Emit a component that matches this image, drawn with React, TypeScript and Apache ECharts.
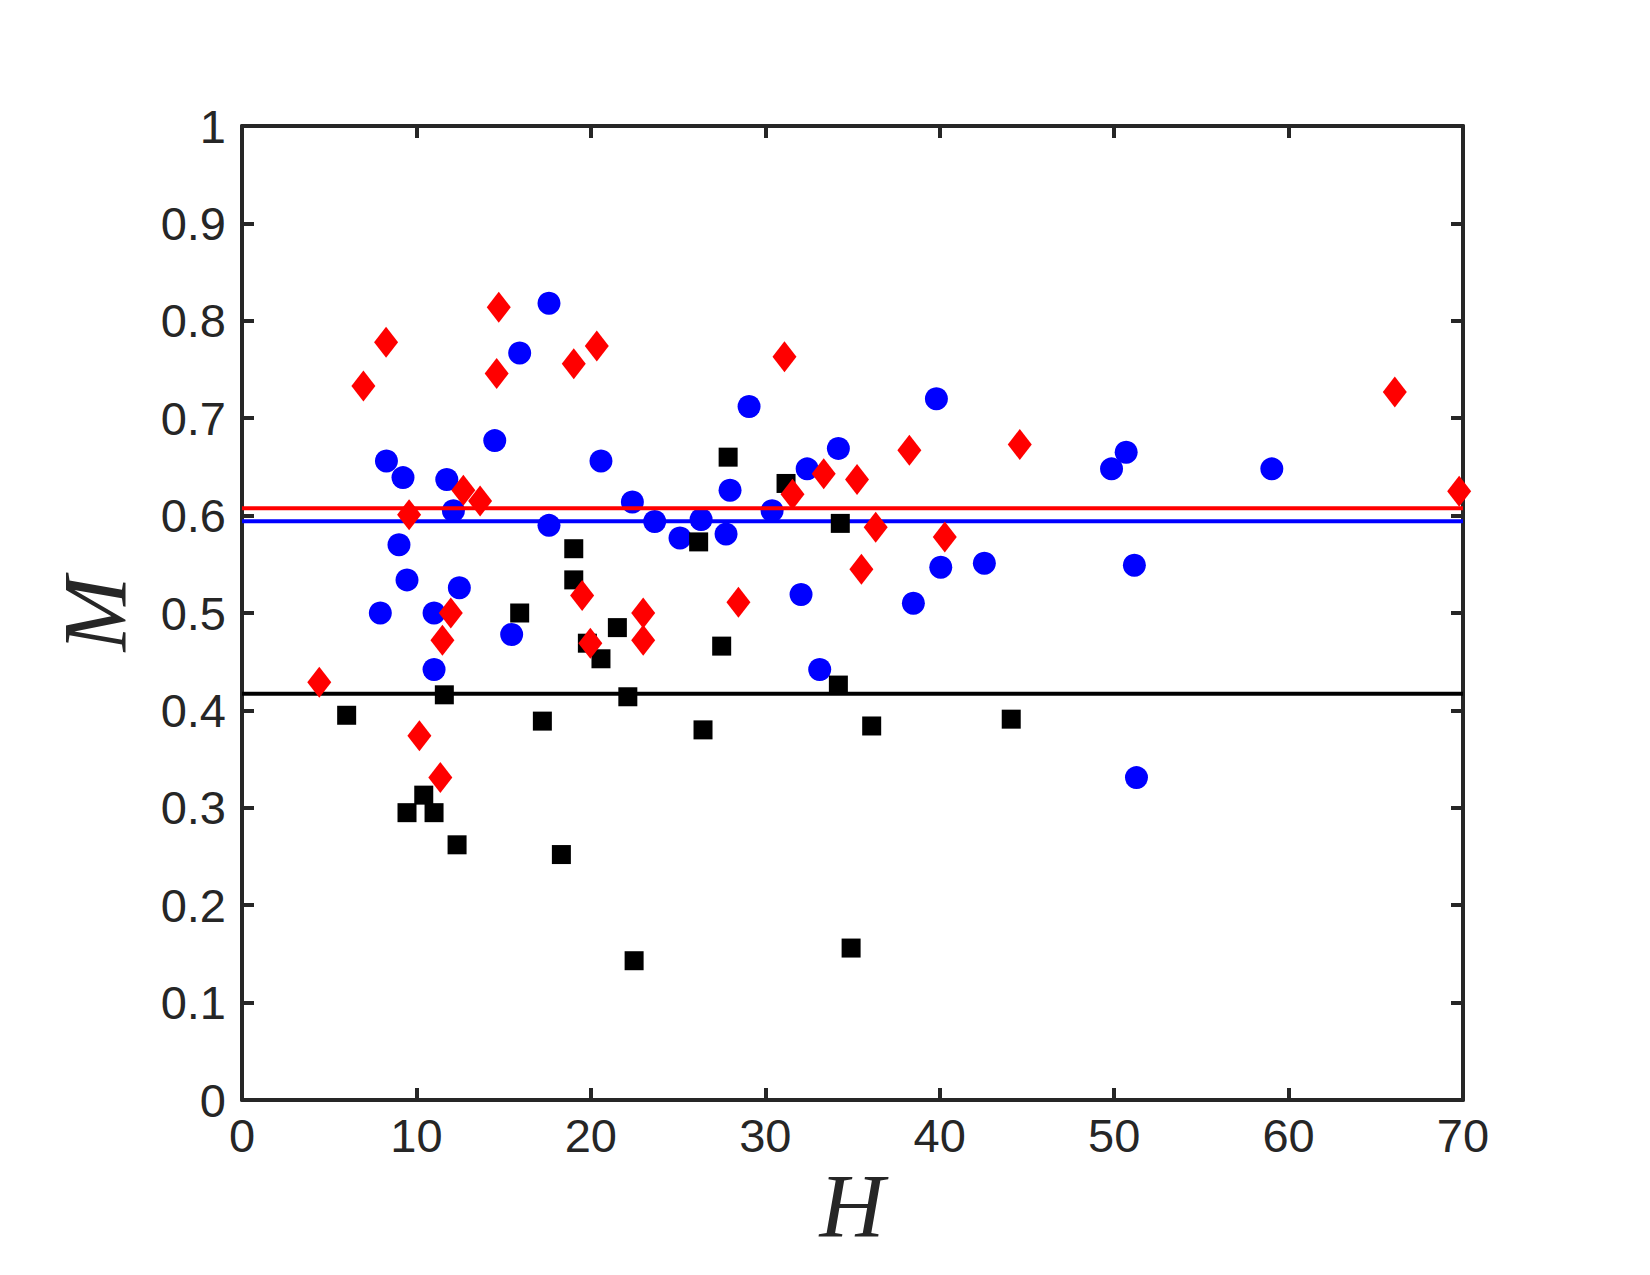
import React, { useEffect, useRef } from "react";
import * as echarts from "echarts";

// Group A (blue circles)
const circleH = [7.93, 8.28, 9.23, 9.0, 9.46, 11.01, 11.01, 11.74, 12.12, 12.46, 14.49, 15.46, 15.92, 17.6, 17.6, 20.58, 22.38, 23.66, 25.11, 26.32, 27.75, 27.98, 29.07, 30.39, 32.05, 32.4, 33.12, 34.19, 38.49, 39.81, 40.06, 42.56, 49.85, 50.69, 51.16, 51.28, 59.04];
const circleM = [0.5, 0.656, 0.639, 0.57, 0.534, 0.5, 0.442, 0.637, 0.605, 0.526, 0.677, 0.478, 0.767, 0.818, 0.59, 0.656, 0.614, 0.594, 0.577, 0.596, 0.581, 0.626, 0.712, 0.605, 0.519, 0.648, 0.442, 0.669, 0.51, 0.72, 0.547, 0.551, 0.648, 0.665, 0.549, 0.331, 0.648];

// Group B (red diamonds)
const diamondH = [4.43, 6.96, 8.26, 9.58, 10.17, 11.37, 11.49, 11.97, 12.69, 13.65, 14.6, 14.72, 19.02, 19.5, 19.97, 20.34, 23.0, 23.0, 28.46, 31.1, 31.56, 33.35, 35.26, 35.51, 36.33, 38.26, 40.29, 44.59, 66.09, 69.78];
const diamondM = [0.429, 0.733, 0.778, 0.601, 0.374, 0.331, 0.472, 0.5, 0.626, 0.615, 0.746, 0.814, 0.756, 0.518, 0.469, 0.774, 0.5, 0.472, 0.511, 0.763, 0.622, 0.643, 0.637, 0.545, 0.588, 0.667, 0.578, 0.673, 0.727, 0.625];

// Group C (black squares)
const squareH = [6.0, 9.46, 10.42, 11.01, 11.6, 12.33, 15.92, 17.22, 18.31, 19.02, 19.02, 19.8, 20.58, 21.52, 22.12, 22.48, 26.18, 26.43, 27.5, 27.87, 31.19, 34.19, 34.3, 34.92, 36.1, 44.1];
const squareM = [0.395, 0.295, 0.313, 0.295, 0.416, 0.262, 0.5, 0.389, 0.252, 0.566, 0.534, 0.469, 0.453, 0.485, 0.414, 0.143, 0.573, 0.38, 0.466, 0.66, 0.633, 0.426, 0.592, 0.156, 0.384, 0.391];

// Group mean levels
const meanDiamond = 0.6075;
const meanCircle = 0.5941;
const meanSquare = 0.4172;

const xRange = [0, 70];
const yRange = [0, 1];

const AXIS_COLOR = "#262626";
const TICK_FONT = "Liberation Sans";

function pairs(xs: number[], ys: number[]) {
  return xs.map((x, i) => [x, ys[i]]);
}

function levelLine(v: number) {
  return [
    [xRange[0], v],
    [xRange[1], v],
  ];
}

export default function App() {
  const ref = useRef<HTMLDivElement>(null);

  useEffect(() => {
    if (!ref.current) return;
    const chart = echarts.init(ref.current, null, { renderer: "svg" });

    const axisLine = { show: true, onZero: false, lineStyle: { color: AXIS_COLOR, width: 4 } };
    const tick = { show: true, inside: true, length: 12, lineStyle: { color: AXIS_COLOR, width: 4 } };
    const labelStyle = { color: AXIS_COLOR, fontFamily: TICK_FONT, fontSize: 47 };

    chart.setOption({
      animation: false,
      backgroundColor: "#ffffff",
      grid: { left: 242, right: 187, top: 126, bottom: 175, containLabel: false },
      xAxis: [
        {
          type: "value",
          min: xRange[0],
          max: xRange[1],
          interval: 10,
          position: "bottom",
          axisLine,
          axisTick: tick,
          axisLabel: { ...labelStyle, margin: 12 },
          splitLine: { show: false },
        },
        {
          type: "value",
          min: xRange[0],
          max: xRange[1],
          interval: 10,
          position: "top",
          axisLine,
          axisTick: tick,
          axisLabel: { show: false },
          splitLine: { show: false },
        },
      ],
      yAxis: [
        {
          type: "value",
          min: yRange[0],
          max: yRange[1],
          interval: 0.1,
          position: "left",
          axisLine,
          axisTick: tick,
          axisLabel: { ...labelStyle, margin: 16 },
          splitLine: { show: false },
        },
        {
          type: "value",
          min: yRange[0],
          max: yRange[1],
          interval: 0.1,
          position: "right",
          axisLine,
          axisTick: tick,
          axisLabel: { show: false },
          splitLine: { show: false },
        },
      ],
      graphic: [
        {
          type: "text",
          x: 852,
          y: 1206,
          style: {
            text: "H",
            font: 'italic 90px "Liberation Serif"',
            fill: AXIS_COLOR,
            align: "center",
            verticalAlign: "middle",
          },
        },
        {
          type: "text",
          x: 95,
          y: 614,
          rotation: Math.PI / 2,
          style: {
            text: "M",
            font: 'italic 90px "Liberation Serif"',
            fill: AXIS_COLOR,
            align: "center",
            verticalAlign: "middle",
          },
        },
      ],
      series: [
        {
          name: "circles",
          type: "scatter",
          z: 2,
          symbol: "circle",
          symbolSize: 23,
          itemStyle: { color: "#0000ff", opacity: 1 },
          data: pairs(circleH, circleM),
        },
        {
          name: "mean diamonds",
          type: "line",
          z: 3,
          symbol: "none",
          lineStyle: { color: "#ff0000", width: 4 },
          data: levelLine(meanDiamond),
        },
        {
          name: "mean circles",
          type: "line",
          z: 3,
          symbol: "none",
          lineStyle: { color: "#0000ff", width: 4 },
          data: levelLine(meanCircle),
        },
        {
          name: "mean squares",
          type: "line",
          z: 3,
          symbol: "none",
          lineStyle: { color: "#000000", width: 4 },
          data: levelLine(meanSquare),
        },
        {
          name: "squares",
          type: "scatter",
          z: 4,
          symbol: "rect",
          symbolSize: 19,
          itemStyle: { color: "#000000", opacity: 1 },
          data: pairs(squareH, squareM),
        },
        {
          name: "diamonds",
          type: "scatter",
          z: 5,
          symbol: "diamond",
          symbolSize: [24, 31],
          itemStyle: { color: "#ff0000", opacity: 1 },
          data: pairs(diamondH, diamondM),
        },
      ],
    });

    return () => chart.dispose();
  }, []);

  return (
    <div
      ref={ref}
      style={{ position: "absolute", left: 0, top: 0, width: 1650, height: 1275, background: "#fff" }}
    />
  );
}
